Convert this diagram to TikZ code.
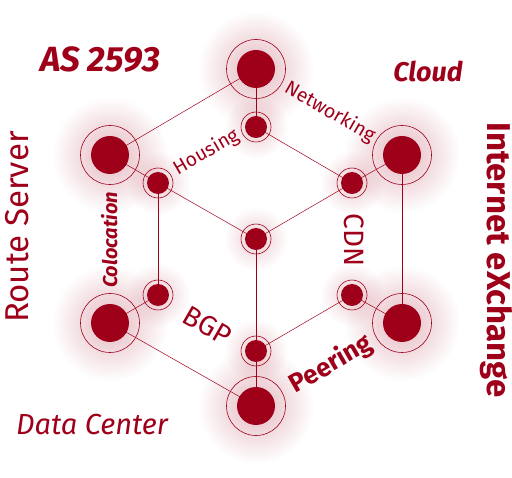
\documentclass[tikz,border=0pt]{standalone}
\usepackage{fontspec}
\setmainfont{Fira Sans}
\usetikzlibrary{fadings}
\definecolor{mainred}{RGB}{158,0,26}
\tikzfading[name=glowfade, inner color=transparent!72, outer color=transparent!100]
\tikzfading[name=glowfadesmall, inner color=transparent!80, outer color=transparent!100]
\pgfdeclarelayer{glowlayer}
\pgfdeclarelayer{linelayer}
\pgfsetlayers{glowlayer,linelayer,main}
\tikzset{
  bignode/.style={circle, draw=mainred, line width=0.6pt, minimum size=59pt, inner sep=0pt,
    path picture={\fill[mainred] (path picture bounding box.center) circle (19pt);}},
  smallnode/.style={circle, draw=mainred, line width=0.6pt, minimum size=30pt, inner sep=0pt,
    path picture={\fill[mainred] (path picture bounding box.center) circle (11pt);}},
  link/.style={draw=mainred, line width=0.5pt},
  lbl/.style={text=mainred, inner sep=0pt, anchor=base},
}
\begin{document}
\begin{tikzpicture}[x=1pt,y=-1pt]
\useasboundingbox (0,0) rectangle (512,478);
% big nodes
\node[bignode] (T)  at (256,69)  {};
\node[bignode] (UL) at (110,155) {};
\node[bignode] (UR) at (402,155) {};
\node[bignode] (LL) at (110,323) {};
\node[bignode] (LR) at (402,323) {};
\node[bignode] (B)  at (256,406) {};
% small nodes
\node[smallnode] (t)  at (256,127) {};
\node[smallnode] (ul) at (158,183) {};
\node[smallnode] (ur) at (352,183) {};
\node[smallnode] (c)  at (256,239) {};
\node[smallnode] (ll) at (158,295) {};
\node[smallnode] (lr) at (352,295) {};
\node[smallnode] (b)  at (256,351) {};
% glows
\begin{pgfonlayer}{glowlayer}
\foreach \n in {T,UL,UR,LL,LR,B}
  \fill[mainred, path fading=glowfade] (\n.center) circle (58pt);
\foreach \n in {t,ul,ur,c,ll,lr,b}
  \fill[mainred, path fading=glowfadesmall] (\n.center) circle (32pt);
\end{pgfonlayer}
% links
\begin{pgfonlayer}{linelayer}
\draw[link] (T.center) -- (UL.center);
\draw[link] (T.center) -- (t.center);
\draw[link] (UL.center) -- (ul.center);
\draw[link] (UR.center) -- (ur.center);
\draw[link] (UR.center) -- (LR.center);
\draw[link] (LL.center) -- (ll.center);
\draw[link] (LL.center) -- (B.center);
\draw[link] (LR.center) -- (lr.center);
\draw[link] (B.center) -- (b.center);
\draw[link] (t.center) -- (ur.center);
\draw[link] (ul.center) -- (c.center);
\draw[link] (ul.center) -- (ll.center);
\draw[link] (c.center) -- (ur.center);
\draw[link] (c.center) -- (b.center);
\draw[link] (b.center) -- (lr.center);
\end{pgfonlayer}
% labels
\node[lbl, font=\fontsize{35}{35}\selectfont\bfseries\itshape] (as) at (100,72) {AS 2593};
\node[lbl, font=\fontsize{27}{27}\selectfont\bfseries\itshape] (cloud) at (428,82) {Cloud};
\node[lbl, font=\fontsize{33}{33}\selectfont, rotate=90] (rs) at (28,227) {Route Server};
\node[lbl, font=\fontsize{20}{20}\selectfont\bfseries\itshape, rotate=90] (colo) at (117,240) {Colocation};
\node[lbl, font=\fontsize{33}{33}\selectfont\bfseries, rotate=-90] (ix) at (487,260) {Internet eXchange};
\node[lbl, font=\fontsize{28}{28}\selectfont, rotate=-90] (cdn) at (344,240) {CDN};
\node[lbl, font=\fontsize{19.5}{19.5}\selectfont, rotate=30] (housing) at (209,157) {Housing};
\node[lbl, font=\fontsize{19.5}{19.5}\selectfont, rotate=-30] (netw) at (327,117) {Networking};
\node[lbl, font=\fontsize{28}{28}\selectfont, rotate=-30] (bgp) at (203,334) {BGP};
\node[lbl, font=\fontsize{26}{26}\selectfont\bfseries, rotate=30] (peer) at (335,371) {Peering};
\node[lbl, font=\fontsize{29}{29}\selectfont\itshape] (dc) at (92,435) {Data Center};
\end{tikzpicture}
\end{document}
